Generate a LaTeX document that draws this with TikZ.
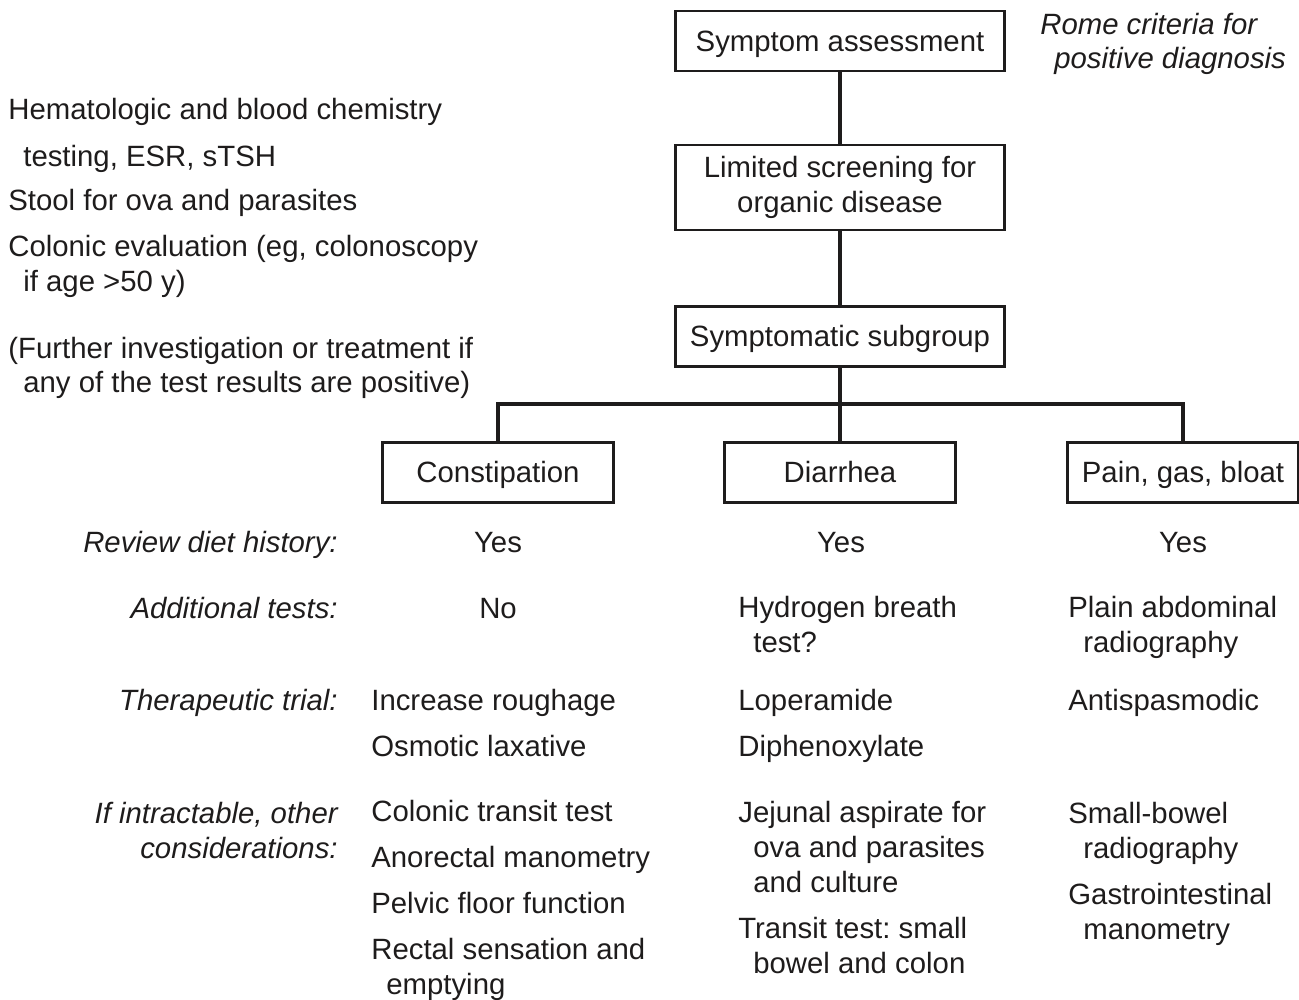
\documentclass[tikz,border=0pt]{standalone}
\usepackage{fontspec}
\setmainfont{Liberation Sans}
\usepackage{tikz}
\usetikzlibrary{positioning,calc}
\usepackage{xcolor}
\definecolor{ink}{RGB}{30,28,28}
\frenchspacing
\newcommand{\bodysize}{\fontsize{16.7}{19.8}\selectfont}
\newcommand{\hang}{\hspace*{0.3cm}}
\tikzset{
  box/.style={draw=ink,line width=1.6pt,inner sep=2pt,align=center,
    text=ink,minimum height=1.2cm},
  oneline/.style={text height=0.42cm,text depth=0pt},
  wide/.style={minimum width=6.58cm},
  narrow/.style={minimum width=4.62cm},
  link/.style={draw=ink,line width=1.8pt},
  % multi-line texts hang from the baseline of their last line
  txt/.style={anchor=base west,inner sep=0pt,align=left,text=ink},
  rowlab/.style={anchor=base east,inner sep=0pt,align=right,text=ink,
    font=\bodysize\itshape},
  mid/.style={anchor=base,inner sep=0pt,text=ink},
}

\begin{document}
\begin{tikzpicture}[x=0.02cm,y=-0.02cm,every node/.style={font=\bodysize}]
  \useasboundingbox (0,0) rectangle (1299,1000);

  % main chain
  \node[box,wide,oneline] (sa) at (840,41) {Symptom assessment};
  \node[box,wide,minimum height=1.7cm] (ls) at (840,187.5)
     {Limited screening for\\organic disease};
  \node[box,wide,oneline] (sg) at (840,336.5) {Symptomatic subgroup};
  \draw[link] (sa) -- (ls);
  \draw[link] (ls) -- (sg);

  % three subgroups
  \node[box,narrow,oneline] (con) at (498,472.5) {Constipation};
  \node[box,narrow,oneline] (dia) at (840,472.5) {Diarrhea};
  \node[box,narrow,oneline] (pgb) at (1183,472.5) {Pain, gas, bloat};
  \coordinate (fork) at (840,404);
  \draw[link] (sg) -- (fork);
  \draw[link] (con.north) |- (fork) -| (pgb.north);
  \draw[link] (fork) -- (dia);

  % side notes
  \node[txt,font=\bodysize\itshape] (rome) at (1040,69)
     {Rome criteria for\\\hspace*{0.28cm}positive diagnosis};
  \node[txt] (screen) at (8,393)
     {Hematologic and blood chemistry\\[0.24cm]
      \hang testing, ESR, sTSH\\[0.2cm]
      Stool for ova and parasites\\[0.22cm]
      Colonic evaluation (eg, colonoscopy\\
      \hang if age >50 y)\\[0.64cm]
      (Further investigation or treatment if\\
      \hang any of the test results are positive)};

  % row labels
  \node[rowlab] (diet) at (338,552) {Review diet history:};
  \node[rowlab] (addt) at (338,618) {Additional tests:};
  \node[rowlab] (ther) at (338,710) {Therapeutic trial:};
  \node[rowlab] (intr) at (338,858) {If intractable, other\\considerations:};

  % diet history
  \node[mid] (dietA) at (498,552) {Yes};
  \node[mid] (dietB) at (841,552) {Yes};
  \node[mid] (dietC) at (1183,552) {Yes};

  % additional tests
  \node[mid] (addA) at (498,618) {No};
  \node[txt] (addB) at (738,652) {Hydrogen breath\\\hang test?};
  \node[txt] (addC) at (1068,652) {Plain abdominal\\\hang radiography};

  % therapeutic trial
  \node[txt] (thA) at (371,756) {Increase roughage\\[0.22cm]Osmotic laxative};
  \node[txt] (thB) at (738,756) {Loperamide\\[0.22cm]Diphenoxylate};
  \node[txt] (thC) at (1068,710) {Antispasmodic};

  % intractable cases
  \node[txt] (inA) at (371,994)
     {Colonic transit test\\[0.22cm]
      Anorectal manometry\\[0.22cm]
      Pelvic floor function\\[0.22cm]
      Rectal sensation and\\
      \hang emptying};
  \node[txt] (inB) at (738,973)
     {Jejunal aspirate for\\
      \hang ova and parasites\\
      \hang and culture\\[0.22cm]
      Transit test: small\\
      \hang bowel and colon};
  \node[txt] (inC) at (1068,939)
     {Small-bowel\\
      \hang radiography\\[0.22cm]
      Gastrointestinal\\
      \hang manometry};
\end{tikzpicture}
\end{document}
